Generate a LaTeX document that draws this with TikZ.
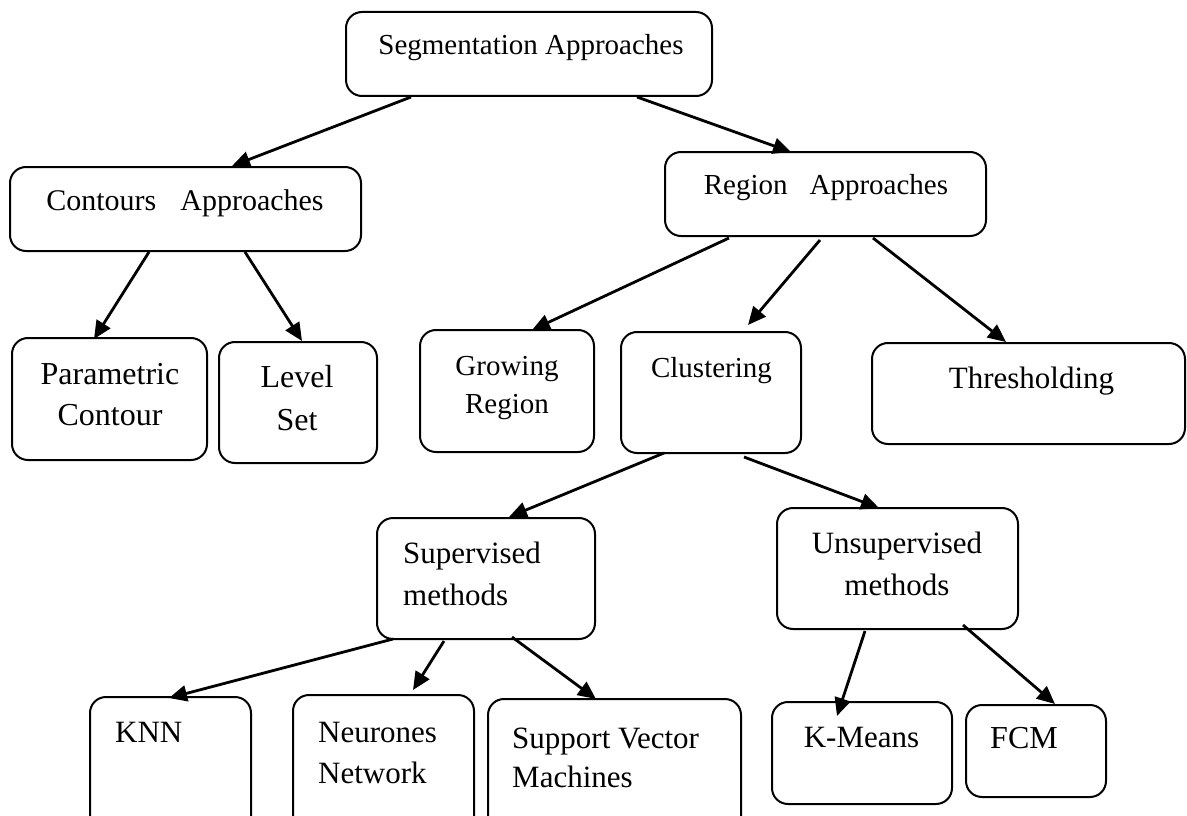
\documentclass[tikz,border=0pt]{standalone}
\usepackage{fontspec}
\setmainfont{Liberation Serif}
\usetikzlibrary{arrows.meta,calc}
\tikzset{
  box/.style={draw, line width=2pt, rounded corners=16pt, inner sep=0pt, outer sep=0pt},
  txt/.style={inner sep=0pt, anchor=base},
  ltxt/.style={inner sep=0pt, anchor=base west},
  arr/.style={line width=2.8pt, -{Triangle[length=18pt,width=16pt]}},
}
\newcommand{\fs}[1]{\fontsize{#1}{#1}\selectfont}
\begin{document}
\begin{tikzpicture}[x=1pt,y=-1pt]
\useasboundingbox[fill=white] (0,0) rectangle (1187,816);
% boxes: centre, width, height
\node[box, minimum width=366pt, minimum height=84pt]  (seg)  at (529,54) {};
\node[box, minimum width=351pt, minimum height=84pt]  (cont) at (185.5,209) {};
\node[box, minimum width=321pt, minimum height=84pt]  (reg)  at (825.5,194) {};
\node[box, minimum width=195pt, minimum height=122pt] (par)  at (109.5,399) {};
\node[box, minimum width=158pt, minimum height=121pt] (lev)  at (298,402.5) {};
\node[box, minimum width=174pt, minimum height=122pt] (grow) at (507,391) {};
\node[box, minimum width=180pt, minimum height=121pt] (clus) at (711,392.5) {};
\node[box, minimum width=313pt, minimum height=101pt] (thr)  at (1028.5,393.5) {};
\node[box, minimum width=218pt, minimum height=121pt] (sup)  at (486,578.5) {};
\node[box, minimum width=241pt, minimum height=121pt] (uns)  at (897.5,568.5) {};
\node[box, minimum width=161pt, minimum height=143pt] (knn)  at (170.5,768.5) {};
\node[box, minimum width=181pt, minimum height=145pt] (neu)  at (383.5,767.5) {};
\node[box, minimum width=253pt, minimum height=141pt] (svm)  at (614.5,769.5) {};
\node[box, minimum width=180pt, minimum height=102pt] (km)   at (862,753) {};
\node[box, minimum width=140pt, minimum height=92pt]  (fcm)  at (1036,751) {};
% labels, one node per printed line, placed on its baseline
\node[txt, font=\fs{29}] (seg-t) at (531,55) {Segmentation Approaches};
\node[txt, font=\fs{30}] (cont-t) at (185,210) {Contours\hspace{24pt}Approaches};
\node[txt, font=\fs{29}] (reg-t) at (826,194) {Region\hspace{22pt}Approaches};
\node[txt, font=\fs{32}] (par-t1) at (110,384) {Parametric};
\node[txt, font=\fs{32}] (par-t2) at (110,425) {Contour};
\node[txt, font=\fs{32}] (lev-t1) at (297,387) {Level};
\node[txt, font=\fs{32}] (lev-t2) at (297,430) {Set};
\node[txt, font=\fs{29}] (grow-t1) at (507,375) {Growing};
\node[txt, font=\fs{29}] (grow-t2) at (507,413) {Region};
\node[txt, font=\fs{29}] (clus-t) at (711.5,377) {Clustering};
\node[txt, font=\fs{31}] (thr-t) at (1031.5,388) {Thresholding};
\node[ltxt, font=\fs{31}] (sup-t1) at (403,563) {Supervised};
\node[ltxt, font=\fs{31}] (sup-t2) at (403,605) {methods};
\node[txt, font=\fs{31}] (uns-t1) at (897,553) {Unsupervised};
\node[txt, font=\fs{31}] (uns-t2) at (897,595) {methods};
\node[ltxt, font=\fs{31}] (knn-t) at (115,742) {KNN};
\node[ltxt, font=\fs{31}] (neu-t1) at (318,742) {Neurones};
\node[ltxt, font=\fs{31}] (neu-t2) at (318,783) {Network};
\node[ltxt, font=\fs{31}] (svm-t1) at (512,748) {Support Vector};
\node[ltxt, font=\fs{31}] (svm-t2) at (512,787) {Machines};
\node[txt, font=\fs{31}] (km-t) at (861.5,747) {K-Means};
\node[ltxt, font=\fs{32}] (fcm-t) at (990,748) {FCM};
% connectors
\draw[arr] ([xshift=-118pt,yshift=-1pt]seg.south) -- ([xshift=46.5pt,yshift=1pt]cont.north);
\draw[arr] ([xshift=108pt,yshift=-1pt]seg.south) -- ([xshift=-34.5pt]reg.north);
\draw[arr] ([xshift=-36.5pt,yshift=-1pt]cont.south) -- ([xshift=-15.5pt,yshift=-1pt]par.north);
\draw[arr] ([xshift=59.5pt,yshift=-1pt]cont.south) -- ([xshift=4pt,yshift=1pt]lev.north);
\draw[arr] ([xshift=-96.5pt,yshift=-2pt]reg.south) -- ([xshift=25pt]grow.north);
\draw[arr] ([xshift=-5.5pt,yshift=-4pt]reg.south) -- ([xshift=37pt,yshift=7pt]clus.north);
\draw[arr] ([xshift=47.5pt,yshift=-2pt]reg.south) -- ([xshift=-22.5pt,yshift=1pt]thr.north);
\draw[arr] ([xshift=-47pt]clus.south) -- ([xshift=23pt,yshift=1pt]sup.north);
\draw[arr] ([xshift=33pt,yshift=-4pt]clus.south) -- ([xshift=-18.5pt]uns.north);
\draw[arr] ([xshift=-93pt]sup.south) -- ([xshift=-1.5pt,yshift=-1pt]knn.north);
\draw[arr] ([xshift=-42pt,yshift=-2pt]sup.south) -- ([xshift=29.5pt,yshift=5pt]neu.north);
\draw[arr] ([xshift=26pt,yshift=2pt]sup.south) -- ([xshift=-18.5pt]svm.north);
\draw[arr] ([xshift=-32.5pt,yshift=-2pt]uns.south) -- ([xshift=-25pt,yshift=-14pt]km.north);
\draw[arr] ([xshift=65.5pt,yshift=4pt]uns.south) -- ([xshift=19pt,yshift=1pt]fcm.north);
\end{tikzpicture}
\end{document}
